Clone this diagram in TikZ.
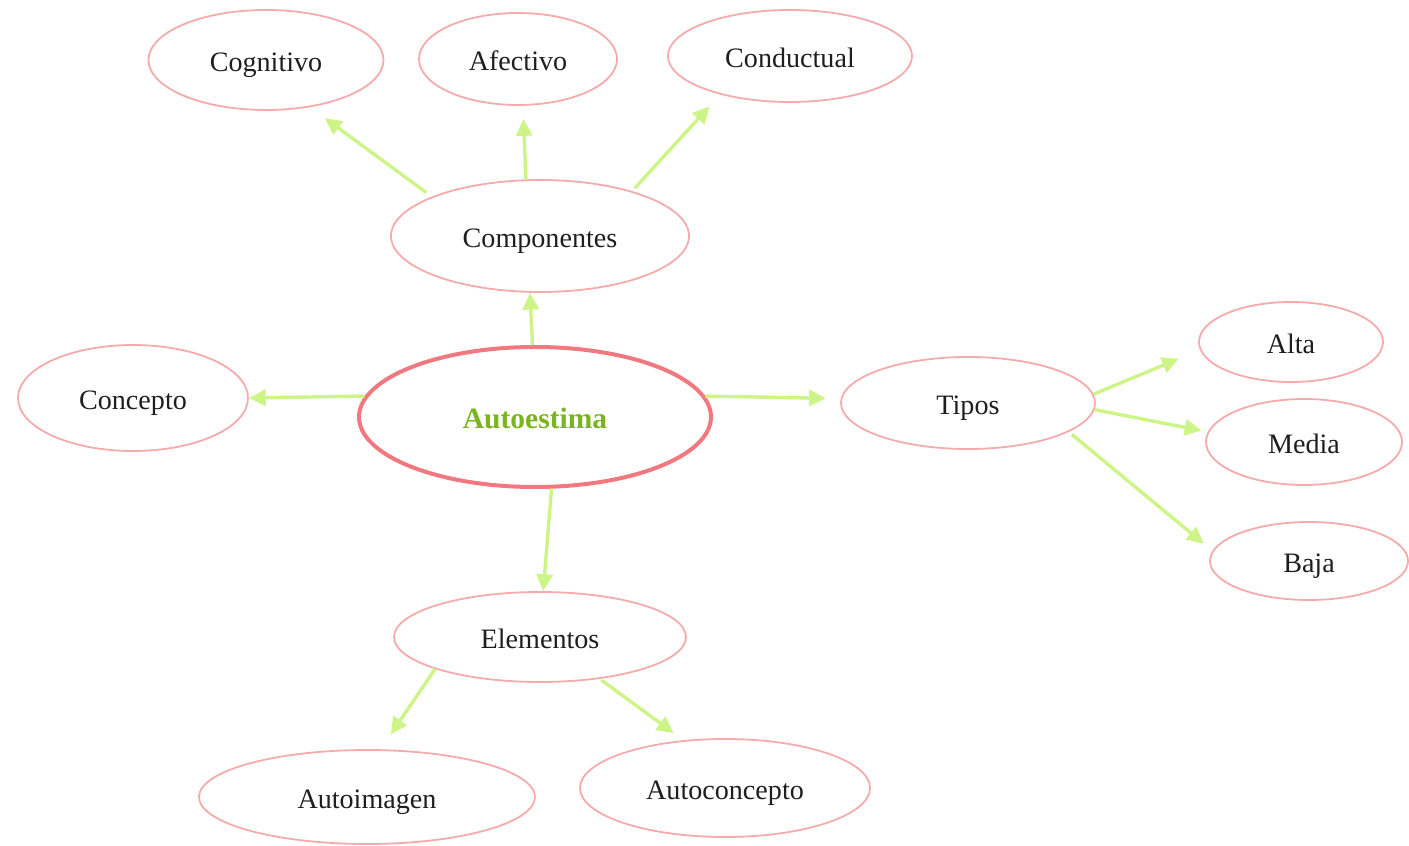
\documentclass[tikz,border=0pt]{standalone}
\usepackage{fontspec}
\setmainfont{Liberation Serif}
\usetikzlibrary{shapes.geometric,arrows.meta}
\definecolor{rosa}{RGB}{245,170,172}
\definecolor{rosaosc}{RGB}{240,120,126}
\definecolor{verdeclaro}{RGB}{205,244,135}
\definecolor{verdetexto}{RGB}{122,180,30}
\definecolor{texto}{RGB}{30,30,30}
\tikzset{
  nodo/.style={ellipse, draw=rosa, line width=0.45mm, inner sep=0pt, text=texto,
    text height=16pt, text depth=0pt, font=\fontsize{20}{22}\selectfont},
  centro/.style={ellipse, draw=rosaosc, line width=1mm, inner sep=0pt, text=verdetexto,
    text height=16pt, text depth=0pt, font=\fontsize{21}{23}\selectfont\bfseries},
  flecha/.style={draw=verdeclaro, line width=0.85mm,
    -{Triangle[length=4.2mm,width=4mm]}}
}
\begin{document}
\begin{tikzpicture}[x=0.25mm, y=-0.25mm]
            \useasboundingbox (0,0) rectangle (1409,846);

            % centro
            \node [centro, minimum width=88mm, minimum height=35mm] (autoestima) at (535,417) {Autoestima};

            % componentes
            \node [nodo, minimum width=74.5mm, minimum height=28mm] (componentes) at (540,236) {Componentes};
            \node [nodo, minimum width=58.75mm, minimum height=25mm] (cognitivo) at (266,60) {Cognitivo};
            \node [nodo, minimum width=49.5mm, minimum height=23mm] (afectivo) at (518,59) {Afectivo};
            \node [nodo, minimum width=61mm, minimum height=23mm] (conductual) at (790,56) {Conductual};

            % concepto
            \node [nodo, minimum width=57.5mm, minimum height=26.5mm] (concepto) at (133,398) {Concepto};

            % tipos
            \node [nodo, minimum width=63.5mm, minimum height=23mm] (tipos) at (968,403) {Tipos};
            \node [nodo, minimum width=46mm, minimum height=20mm] (alta) at (1291,342) {Alta};
            \node [nodo, minimum width=49mm, minimum height=21.5mm] (media) at (1304,442) {Media};
            \node [nodo, minimum width=49.5mm, minimum height=19.5mm] (baja) at (1309,561) {Baja};

            % elementos
            \node [nodo, minimum width=73mm, minimum height=22.5mm] (elementos) at (540,637) {Elementos};
            \node [nodo, minimum width=84mm, minimum height=23.5mm] (autoimagen) at (367,797) {Autoimagen};
            \node [nodo, minimum width=72.5mm, minimum height=24.5mm] (autoconcepto) at (725,788) {Autoconcepto};

            % flechas
            \draw [flecha] (autoestima.92) -- (componentes.-100);
            \draw [flecha] (autoestima.173) -- (concepto.0);
            \draw [flecha, shorten >=3.7mm] (autoestima.7) -- (tipos.178);
            \draw [flecha] (autoestima.-77) -- (elementos.86);

            \draw [flecha, shorten <=1.7mm, shorten >=4.6mm] (componentes.160) -- (cognitivo.-47);
            \draw [flecha, shorten >=3.3mm] (componentes.104) -- (afectivo.-84);
            \draw [flecha, shorten <=1mm, shorten >=4mm] (componentes.26) -- (conductual.-151);

            \draw [flecha, shorten >=5.7mm] (tipos.4) -- (alta.-175);
            \draw [flecha, shorten >=1.6mm] (tipos.-3) -- (media.174);
            \draw [flecha, shorten <=1mm, shorten >=2.8mm] (tipos.-16) -- (baja.174);

            \draw [flecha, shorten >=4.5mm] (elementos.-163) -- (autoimagen.74);
            \draw [flecha, shorten <=0.5mm, shorten >=3mm] (elementos.-35) -- (autoconcepto.131);
        \end{tikzpicture}
\end{document}
